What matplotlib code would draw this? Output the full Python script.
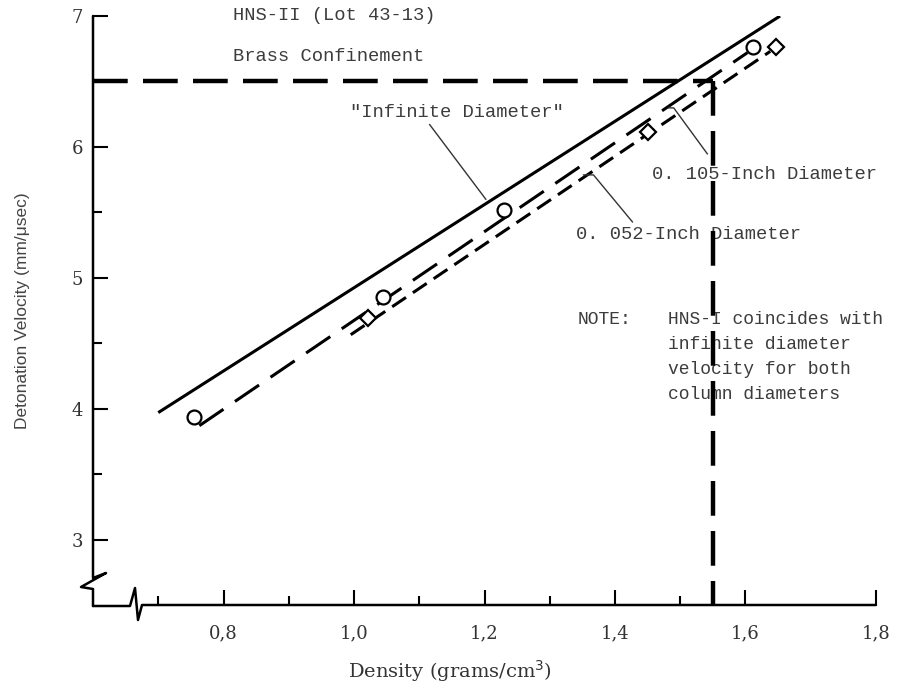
import numpy as np
import matplotlib
matplotlib.use('Agg')
import matplotlib.pyplot as plt
from matplotlib.ticker import FuncFormatter

plt.rcParams['lines.scale_dashes'] = False

# --- data ---
infinite_density = [0.700, 1.653]
infinite_velocity = [3.97, 7.00]
d105_density = [0.763, 1.603]
d105_velocity = [3.87, 6.72]
d052_density = [0.995, 1.638]
d052_velocity = [4.565, 6.73]

circle_density = [0.755, 1.045, 1.230, 1.612]
circle_velocity = [3.94, 4.85, 5.52, 6.76]
diamond_density = [1.022, 1.451, 1.646]
diamond_velocity = [4.69, 6.11, 6.76]

target_density = 1.55
target_velocity = 6.5

x_major = [0.8, 1.0, 1.2, 1.4, 1.6, 1.8]
y_major = [3, 4, 5, 6, 7]

TXT = dict(family='Liberation Mono', color='#3c3c3c')

fig = plt.figure(figsize=(9.04, 6.88), dpi=100)
ax = fig.add_axes([93 / 904, 1 - 605 / 688, 783 / 904, 589 / 688])
ax.set_xlim(0.6, 1.8)
ax.set_ylim(2.5, 7.0)

# main curves
ax.plot(infinite_density, infinite_velocity, color='black', lw=2.2, solid_capstyle='butt')
ax.plot(d105_density, d105_velocity, color='black', lw=2.2, dashes=(21, 10))
ax.plot(d052_density, d052_velocity, color='black', lw=2.2, dashes=(12, 6))
ax.plot(circle_density, circle_velocity, 'o', ms=10, mfc='white', mec='black', mew=1.6, zorder=4)
ax.plot(diamond_density, diamond_velocity, 'D', ms=8, mfc='white', mec='black', mew=1.6, zorder=4)

# heavy dashed target lines
ax.plot([0.6, target_density], [target_velocity, target_velocity], color='black', lw=3.2,
        dashes=(25, 11), zorder=5)
ax.plot([target_density, target_density], [target_velocity, 2.5], color='black', lw=3.2,
        dashes=(25, 11), zorder=5, clip_on=False)

# labels + leaders
ax.text(0.815, 7.0, 'HNS-II (Lot 43-13)', fontsize=13.5, va='center', **TXT)
ax.text(0.815, 6.687, 'Brass Confinement', fontsize=13.5, va='center', **TXT)
ax.text(0.994, 6.26, '"Infinite Diameter"', fontsize=13.5, va='center', **TXT)
ax.plot([1.116, 1.202], [6.17, 5.60], color='#333333', lw=1.0)

ax.text(1.457, 5.786, '0. 105-Inch Diameter', fontsize=13.5, va='center', **TXT)
ax.plot([1.482, 1.490, 1.5415], [6.298, 6.298, 5.947], color='#333333', lw=1.0)
ax.text(1.3395, 5.328, '0. 052-Inch Diameter', fontsize=13.5, va='center', **TXT)
ax.plot([1.3518, 1.367, 1.4267], [5.786, 5.786, 5.427], color='#333333', lw=1.0)

ax.text(1.3426, 4.679, 'NOTE:', fontsize=13, va='center', **TXT)
note = ['HNS-I coincides with', 'infinite diameter', 'velocity for both', 'column diameters']
for i, line in enumerate(note):
    ax.text(1.4818, 4.679 - i * 0.19, line, fontsize=13, va='center', **TXT)

# axes with break marks (drawn by hand)
for s in ax.spines.values():
    s.set_visible(False)
W, H = 783.0, 589.0
def px(x, y):
    return (x - 93) / W, (605 - y) / H
yaxis = [px(93, 16), px(93, 578), px(106, 573), px(81, 587), px(93, 589), px(93, 606)]
xaxis = [px(93, 606), px(130, 606), px(135, 588), px(138, 620), px(142, 605), px(876, 605)]
for pts in (yaxis, xaxis):
    xs, ys = zip(*pts)
    ax.plot(xs, ys, color='black', lw=1.8, transform=ax.transAxes, clip_on=False,
            solid_joinstyle='round', solid_capstyle='round')

ax.set_xticks(x_major)
ax.set_xticks(np.array(x_major[:-1]) - 0.1, minor=True)
ax.set_yticks(y_major)
ax.set_yticks(np.array(y_major[:-1]) + 0.5, minor=True)
ax.tick_params(which='major', direction='in', length=11, width=1.5, top=False, right=False)
ax.tick_params(which='minor', direction='in', length=6.5, width=1.5, top=False, right=False)
ax.tick_params(axis='x', which='major', pad=14)
ax.tick_params(axis='y', which='major', pad=7)
ax.xaxis.set_major_formatter(FuncFormatter(lambda v, p: f'{v:.1f}'.replace('.', ',')))
ax.yaxis.set_major_formatter(FuncFormatter(lambda v, p: f'{v:.0f}'))
for lab in ax.get_xticklabels() + ax.get_yticklabels():
    lab.set_family('DejaVu Serif')
    lab.set_fontsize(13)
    lab.set_color('#333333')

ax.set_xlabel('Density (grams/cm$^3$)', family='DejaVu Serif', fontsize=14, color='#333333')
ax.xaxis.set_label_coords((450 - 93) / W, (605 - 658) / H)
ax.set_ylabel('Detonation Velocity (mm/\u03bcsec)', family='Liberation Sans', fontsize=12.5,
              color='#444444')
ax.yaxis.set_label_coords((30 - 93) / W, 0.5)

fig.savefig('out.png', dpi=100)
